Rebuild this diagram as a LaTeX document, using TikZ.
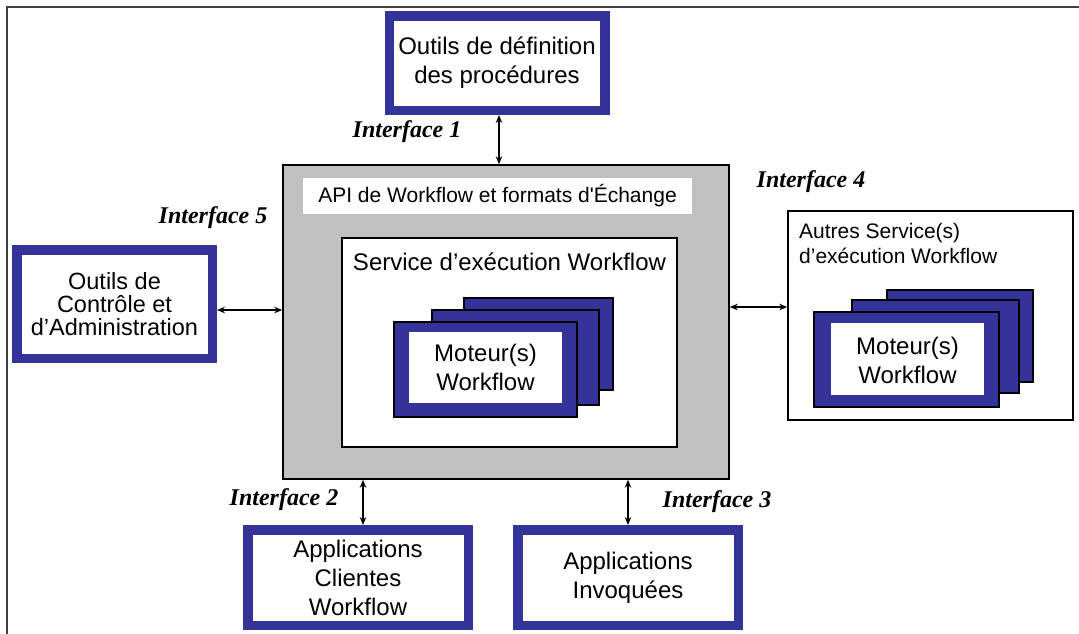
\documentclass[tikz,border=0pt]{standalone}
\usepackage{fontspec}
\setmainfont{Liberation Sans}
\newfontfamily\ifacefont{Liberation Serif}
\usetikzlibrary{arrows.meta}
\definecolor{wfblue}{HTML}{333399}
\definecolor{wfgrey}{HTML}{C0C0C0}
\definecolor{framegrey}{HTML}{404040}
\newcommand\txtL{\fontsize{24}{29}\selectfont}
\newcommand\txtM{\fontsize{21}{25}\selectfont}
\newcommand\txtI{\ifacefont\bfseries\itshape\fontsize{24}{28}\selectfont}
\begin{document}
\begin{tikzpicture}[x=1pt,y=-1pt,
 bluebox/.style={draw=wfblue,line width=9.5pt,fill=white,inner sep=0pt,align=center,font=\txtL},
 plainbox/.style={draw=black,line width=1.5pt,inner sep=0pt},
 iface/.style={font=\txtI,inner sep=0pt},
 link/.style={line width=1.4pt,{Stealth[length=8pt,width=6.5pt]}-{Stealth[length=8pt,width=6.5pt]}},
 engback/.style={draw=black,line width=1.3pt,fill=wfblue},
 label/.style={inner sep=0pt,align=center,font=\txtL},
]
\useasboundingbox (0,0) rectangle (1079,633);
\draw[framegrey,line width=2.5pt] (7,645) -- (7,7) -- (1090,7);

% top box
\node[bluebox,minimum width=215.5pt,minimum height=94.5pt] (procdef) at (497,63) {Outils de définition\\des procédures};

% central grey block
\node[plainbox,fill=wfgrey,minimum width=446pt,minimum height=314pt] (wapi) at (506,322) {};
\node[fill=white,inner sep=0pt,minimum width=389pt,minimum height=36pt,font=\txtM] (apilabel) at (497.5,196) {API de Workflow et formats d\textquotesingle Échange};
\node[plainbox,fill=white,minimum width=335pt,minimum height=209pt] (service) at (509.5,342.5) {};
\node[label] (servicelabel) at (509.5,262) {Service d’exécution Workflow};
\draw[engback] (464,298) rectangle (613,390);
\draw[engback] (432,310) rectangle (599,405);
\draw[engback] (394,322) rectangle (577,417);
\fill[white] (409,332) rectangle (562,403);
\node[label] (engine) at (485.5,367) {Moteur(s)\\Workflow};

% left box
\node[bluebox,minimum width=195.5pt,minimum height=108.5pt,font=\fontsize{23.5}{23}\selectfont] (admin) at (114.5,304) {Outils de\\Contrôle et\\d’Administration};

% right box
\node[plainbox,fill=white,minimum width=285pt,minimum height=209pt] (other) at (930.5,315.5) {};
\node[inner sep=0pt,align=left,anchor=north west,font=\txtM] (otherlabel) at (799,223) {Autres Service(s)\\d’exécution Workflow};
\draw[engback] (887,290) rectangle (1033,382);
\draw[engback] (852,300) rectangle (1019,393);
\draw[engback] (814,312) rectangle (999,407);
\fill[white] (831,323) rectangle (984,395);
\node[label] (engine2) at (907.5,360) {Moteur(s)\\Workflow};

% bottom boxes
\node[bluebox,minimum width=220.5pt,minimum height=95.5pt] (clientapps) at (358,577.5) {Applications\\Clientes\\Workflow};
\node[bluebox,minimum width=220.5pt,minimum height=95.5pt] (invoked) at (628,577.5) {Applications\\Invoquées};

% connectors
\draw[link] ([xshift=2pt]procdef.south) -- ([xshift=2pt]procdef.south |- wapi.north);
\draw[link] ([yshift=-6pt]admin.east) -- ([yshift=-6pt]admin.east -| wapi.west);
\draw[link] ([yshift=8.5pt]other.west) -- ([yshift=8.5pt]other.west -| wapi.east);
\draw[link] ([xshift=5pt]clientapps.north) -- ([xshift=5pt]clientapps.north |- wapi.south);
\draw[link] (invoked.north) -- (invoked.north |- wapi.south);

% interface labels
\node[iface] (if1) at (407,132) {Interface 1};
\node[iface] (if5) at (213,218) {Interface 5};
\node[iface] (if4) at (811,182) {Interface 4};
\node[iface] (if2) at (284,500) {Interface 2};
\node[iface] (if3) at (717,502) {Interface 3};
\end{tikzpicture}
\end{document}
